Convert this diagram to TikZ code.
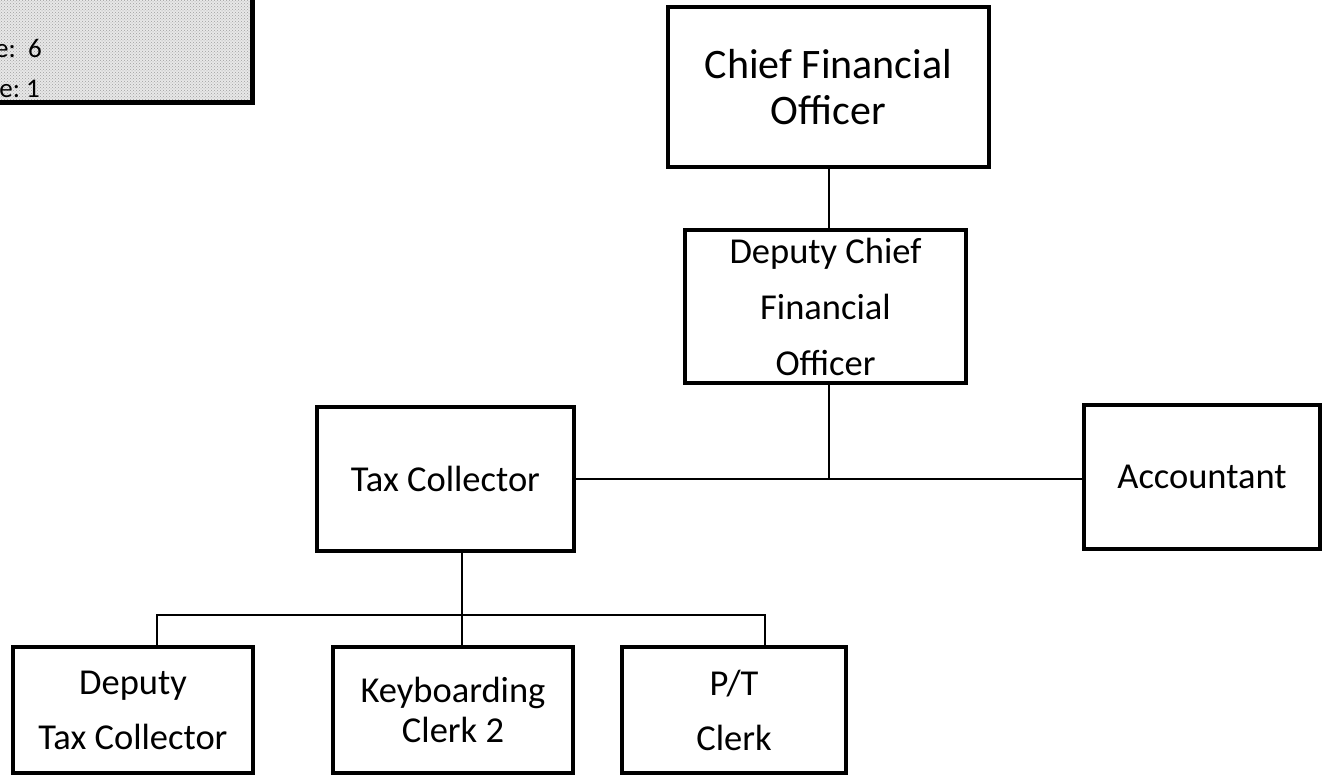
\documentclass[tikz,border=0pt]{standalone}
\usepackage{fontspec}
\setmainfont{Carlito}
\usetikzlibrary{patterns}
\tikzset{
  orgbox/.style={draw, line width=3.3pt, inner sep=0pt, align=center,
    font={\fontsize{36.5}{40}\selectfont}},
  link/.style={line width=2pt}
}
\begin{document}
\begin{tikzpicture}[x=1pt,y=-1pt]
\clip (0,0) rectangle (1325,776);
%\draw[step=50,gray,very thin] (0,0) grid (1325,776);
\fill[white] (0,0) rectangle (1325,776);
% head count box (cut off at the corner)
\fill[gray!18] (-20,-20) rectangle (252,102);
\fill[pattern=crosshatch dots, pattern color=gray!75] (-20,-20) rectangle (252,102);
\draw[line width=5pt] (-20,102) -- (252,102) -- (252,-20);
\node[anchor=base east, inner sep=0pt, font={\fontsize{27}{30}\selectfont}] (hc1) at (42,58) {e:\ \ 6};
\node[anchor=base east, inner sep=0pt, font={\fontsize{27}{30}\selectfont}] (hc2) at (40,97) {e:\ 1};

%------------------------------------------------
\node[orgbox, minimum width=321pt, minimum height=160pt, font={\fontsize{42}{46}\selectfont}] (cfo) at (828.5,87) {Chief Financial\\Officer};
\node[orgbox, minimum width=281pt, minimum height=153pt, font={\fontsize{36.5}{56}\selectfont}] (dcfo) at (825.5,306.5) {Deputy Chief\\Financial\\Officer};
\node[orgbox, minimum width=257pt, minimum height=144pt] (taxc) at (445.5,479) {Tax Collector};
\node[orgbox, minimum width=236pt, minimum height=144pt] (acct) at (1202,477) {Accountant};
\node[orgbox, minimum width=240pt, minimum height=126pt, font={\fontsize{36.5}{55}\selectfont}] (dtc) at (133,710) {Deputy\\Tax Collector};
\node[orgbox, minimum width=240pt, minimum height=126pt] (kbc) at (453,710) {Keyboarding\\Clerk 2};
\node[orgbox, minimum width=224pt, minimum height=126pt, font={\fontsize{36.5}{55}\selectfont}] (ptc) at (734,710) {P/T\\Clerk};

\coordinate (jn) at (829,479);
\coordinate (bus) at (462,615);
\coordinate (busl) at (157,615);
\coordinate (busr) at (765,615);

\draw[link] (cfo.south -| jn) -- (jn |- dcfo.north);
\draw[link] (jn |- dcfo.south) -- (jn);
\draw[link] (taxc.east |- jn) -- (jn) -- (jn -| acct.west);
\draw[link] (bus |- taxc.south) -- (bus |- kbc.north);
\draw[link] (busl |- dtc.north) -- (busl) -- (busr) -- (busr |- ptc.north);
\end{tikzpicture}
\end{document}
